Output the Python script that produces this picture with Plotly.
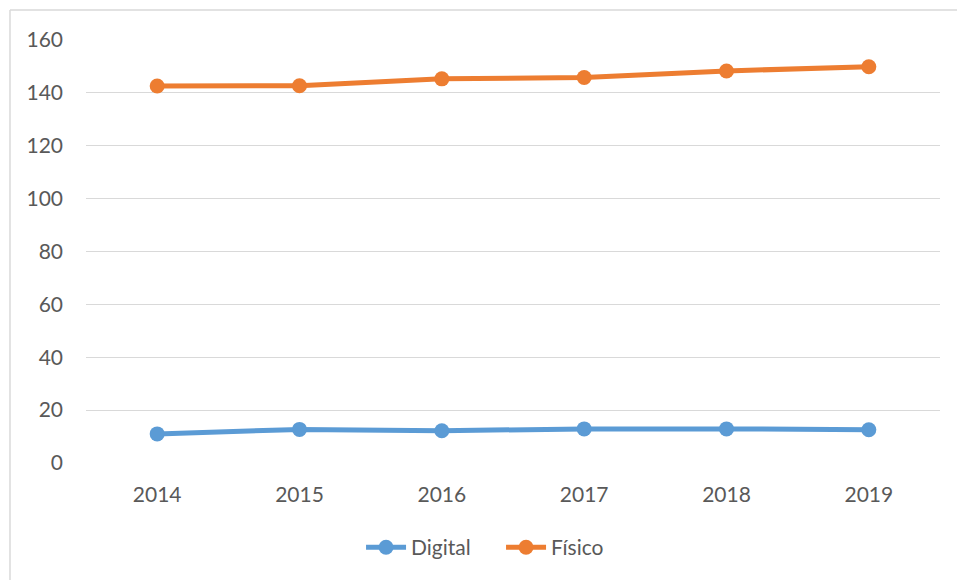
import plotly.graph_objects as go

years = [2014, 2015, 2016, 2017, 2018, 2019]
digital = [11.0, 12.7, 12.2, 12.9, 12.9, 12.6]
fisico = [142.6, 142.7, 145.3, 145.8, 148.3, 149.9]
y_ticks = [0, 20, 40, 60, 80, 100, 120, 140, 160]

FONT = "Lato"
TXT = "#595959"

fig = go.Figure()
fig.add_trace(go.Scatter(
    x=years, y=digital, name="Digital", mode="lines+markers",
    line=dict(color="#5B9BD5", width=5),
    marker=dict(color="#5B9BD5", size=15),
))
fig.add_trace(go.Scatter(
    x=years, y=fisico, name="Físico", mode="lines+markers",
    line=dict(color="#ED7D31", width=5),
    marker=dict(color="#ED7D31", size=15),
))

fig.update_layout(
    width=957, height=580,
    margin=dict(l=86, r=17, t=40, b=117),
    paper_bgcolor="white", plot_bgcolor="white",
    font=dict(family=FONT, size=21, color=TXT),
    showlegend=True,
    legend=dict(orientation="h", x=0.486, xanchor="center", y=-0.2, yanchor="middle",
                font=dict(family=FONT, size=21, color=TXT), itemwidth=40,
                entrywidth=85, tracegroupgap=0),
    xaxis=dict(range=[2013.5, 2019.5], tickvals=years, ticktext=[str(y) for y in years],
               showgrid=False, zeroline=False, showline=False, ticks="",
               ticklabelstandoff=17),
    yaxis=dict(range=[0, 160], tickvals=y_ticks, showgrid=True, gridcolor="#D9D9D9",
               gridwidth=1.3, zeroline=False, showline=False, ticks="",
               ticklabelstandoff=22),
    shapes=[
        dict(type="line", xref="paper", yref="paper", x0=-0.089, x1=1.03,
             y0=1.071, y1=1.071, line=dict(color="#D9D9D9", width=1.5)),
        dict(type="line", xref="paper", yref="paper", x0=-0.089, x1=-0.089,
             y0=1.071, y1=-0.3, line=dict(color="#D9D9D9", width=1.5)),
    ],
)

fig.write_html("out.html", config={"displayModeBar": False},
               post_script="document.body.style.margin='0';")
